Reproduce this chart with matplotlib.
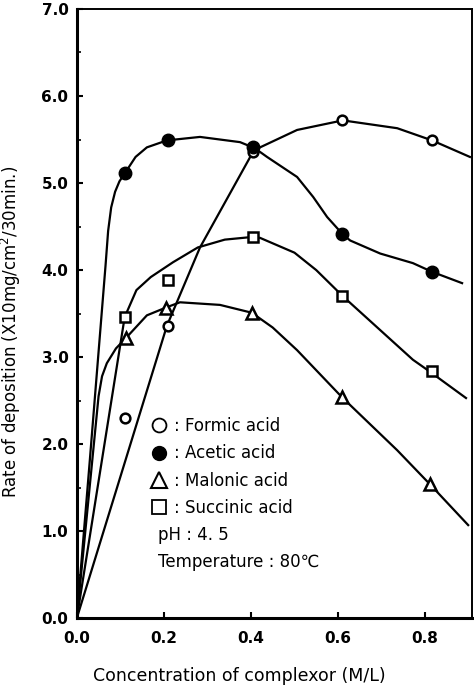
import matplotlib
matplotlib.use("Agg")
import matplotlib.pyplot as plt
from matplotlib.lines import Line2D

# measured points (concentration M/L, rate x10 mg/cm2/30min)
x_pts = [0.11, 0.21, 0.405, 0.61, 0.815]
formic = [2.30, 3.36, 5.36, 5.72, 5.49]
acetic = [5.11, 5.49, 5.41, 4.41, 3.98]
malonic = [3.22, 3.57, 3.51, 2.54, 1.54]
succinic = [3.46, 3.89, 4.38, 3.70, 2.84]
x_pts_m = [0.113, 0.205, 0.402, 0.609, 0.811]

# hand drawn trend curves
formic_cx = [0.0, 0.207, 0.283, 0.405, 0.421, 0.506, 0.611, 0.736, 0.816, 0.903]
formic_cy = [0.0, 3.36, 4.26, 5.36, 5.41, 5.61, 5.72, 5.63, 5.49, 5.30]

acetic_cx = [0.0, 0.03, 0.066, 0.072, 0.079, 0.088, 0.098, 0.11, 0.135, 0.161,
             0.207, 0.283, 0.375, 0.409, 0.437, 0.506, 0.543, 0.575, 0.611,
             0.628, 0.697, 0.772, 0.816, 0.885]
acetic_cy = [0.0, 1.82, 4.05, 4.45, 4.72, 4.90, 5.02, 5.11, 5.30, 5.41,
             5.49, 5.53, 5.47, 5.40, 5.30, 5.07, 4.84, 4.61, 4.41,
             4.34, 4.19, 4.08, 3.98, 3.85]

malonic_cx = [0.0, 0.05, 0.058, 0.069, 0.09, 0.113, 0.161, 0.205, 0.237, 0.329,
              0.402, 0.45, 0.506, 0.609, 0.736, 0.811, 0.899]
malonic_cy = [0.0, 2.55, 2.78, 2.93, 3.10, 3.22, 3.48, 3.57, 3.63, 3.60,
              3.51, 3.34, 3.08, 2.54, 1.93, 1.54, 1.07]

succinic_cx = [0.0, 0.11, 0.137, 0.17, 0.221, 0.278, 0.34, 0.402, 0.421,
               0.50, 0.55, 0.611, 0.697, 0.772, 0.809, 0.894]
succinic_cy = [0.0, 3.46, 3.77, 3.92, 4.09, 4.26, 4.35, 4.38, 4.37,
               4.20, 4.00, 3.70, 3.31, 2.97, 2.84, 2.53]

y_ticks = [0.0, 1.0, 2.0, 3.0, 4.0, 5.0, 6.0, 7.0]
x_ticks = [0.0, 0.2, 0.4, 0.6, 0.8]
legend_names = [": Formic acid", ": Acetic acid", ": Malonic acid", ": Succinic acid"]

fig = plt.figure(figsize=(4.74, 6.90), dpi=100)
ax = fig.add_axes([0.162, 0.104, 0.834, 0.883])

lw = 1.6
ax.plot(formic_cx, formic_cy, color="black", lw=lw, zorder=2)
ax.plot(acetic_cx, acetic_cy, color="black", lw=lw, zorder=2)
ax.plot(malonic_cx, malonic_cy, color="black", lw=lw, zorder=2)
ax.plot(succinic_cx, succinic_cy, color="black", lw=lw, zorder=2)

ax.plot(x_pts, formic, "o", ms=7, mfc="white", mec="black", mew=1.8, ls="none", zorder=4)
ax.plot(x_pts, acetic, "o", ms=9, mfc="black", mec="black", ls="none", zorder=4)
ax.plot(x_pts_m, malonic, "^", ms=9, mfc="white", mec="black", mew=1.8, ls="none", zorder=4)
ax.plot(x_pts, succinic, "s", ms=6.5, mfc="white", mec="black", mew=1.8, ls="none", zorder=4)

ax.set_xlim(0, 0.908)
ax.set_ylim(0, 7.0)
ax.set_xticks(x_ticks)
ax.set_yticks(y_ticks)
ax.set_yticks([0.5, 1.5, 2.5, 3.5, 4.5, 5.5, 6.5], minor=True)
ax.set_xticklabels(["%.1f" % v for v in x_ticks], fontsize=11, fontweight="bold")
ax.set_yticklabels(["%.1f" % v for v in y_ticks], fontsize=11, fontweight="bold")
ax.tick_params(direction="in", length=4, width=1.5, pad=6)
ax.tick_params(axis="x", pad=9)
ax.tick_params(which="minor", direction="in", length=3, width=1.2)

for s in ["left", "bottom"]:
    ax.spines[s].set_linewidth(2.2)
ax.spines["top"].set_linewidth(1.4)
ax.spines["right"].set_linewidth(1.4)

ax.set_ylabel("Rate of deposition (X10mg/cm$^2$/30min.)", fontsize=12)
ax.set_xlabel("Concentration of complexor (M/L)", fontsize=12.5)
ax.xaxis.set_label_coords(0.41, -0.08)
ax.yaxis.set_label_coords(-0.135, 0.47)

handles = [
    Line2D([], [], marker="o", ms=10, mfc="white", mec="black", mew=1.3, ls="none"),
    Line2D([], [], marker="o", ms=10, mfc="black", mec="black", ls="none"),
    Line2D([], [], marker="^", ms=11, mfc="white", mec="black", mew=1.5, ls="none"),
    Line2D([], [], marker="s", ms=10, mfc="white", mec="black", mew=1.3, ls="none"),
]
ax.legend(handles, legend_names, loc="upper left", bbox_to_anchor=(0.19, 0.33),
          frameon=False, fontsize=12, handlelength=0.9, handletextpad=0.4,
          labelspacing=0.55, borderpad=0, borderaxespad=0)
ax.text(0.205, 0.136, "pH : 4. 5", transform=ax.transAxes, fontsize=12, va="center")
ax.text(0.205, 0.092, "Temperature : 80\u2103", transform=ax.transAxes, fontsize=12, va="center")

fig.savefig("out.png", dpi=100)
